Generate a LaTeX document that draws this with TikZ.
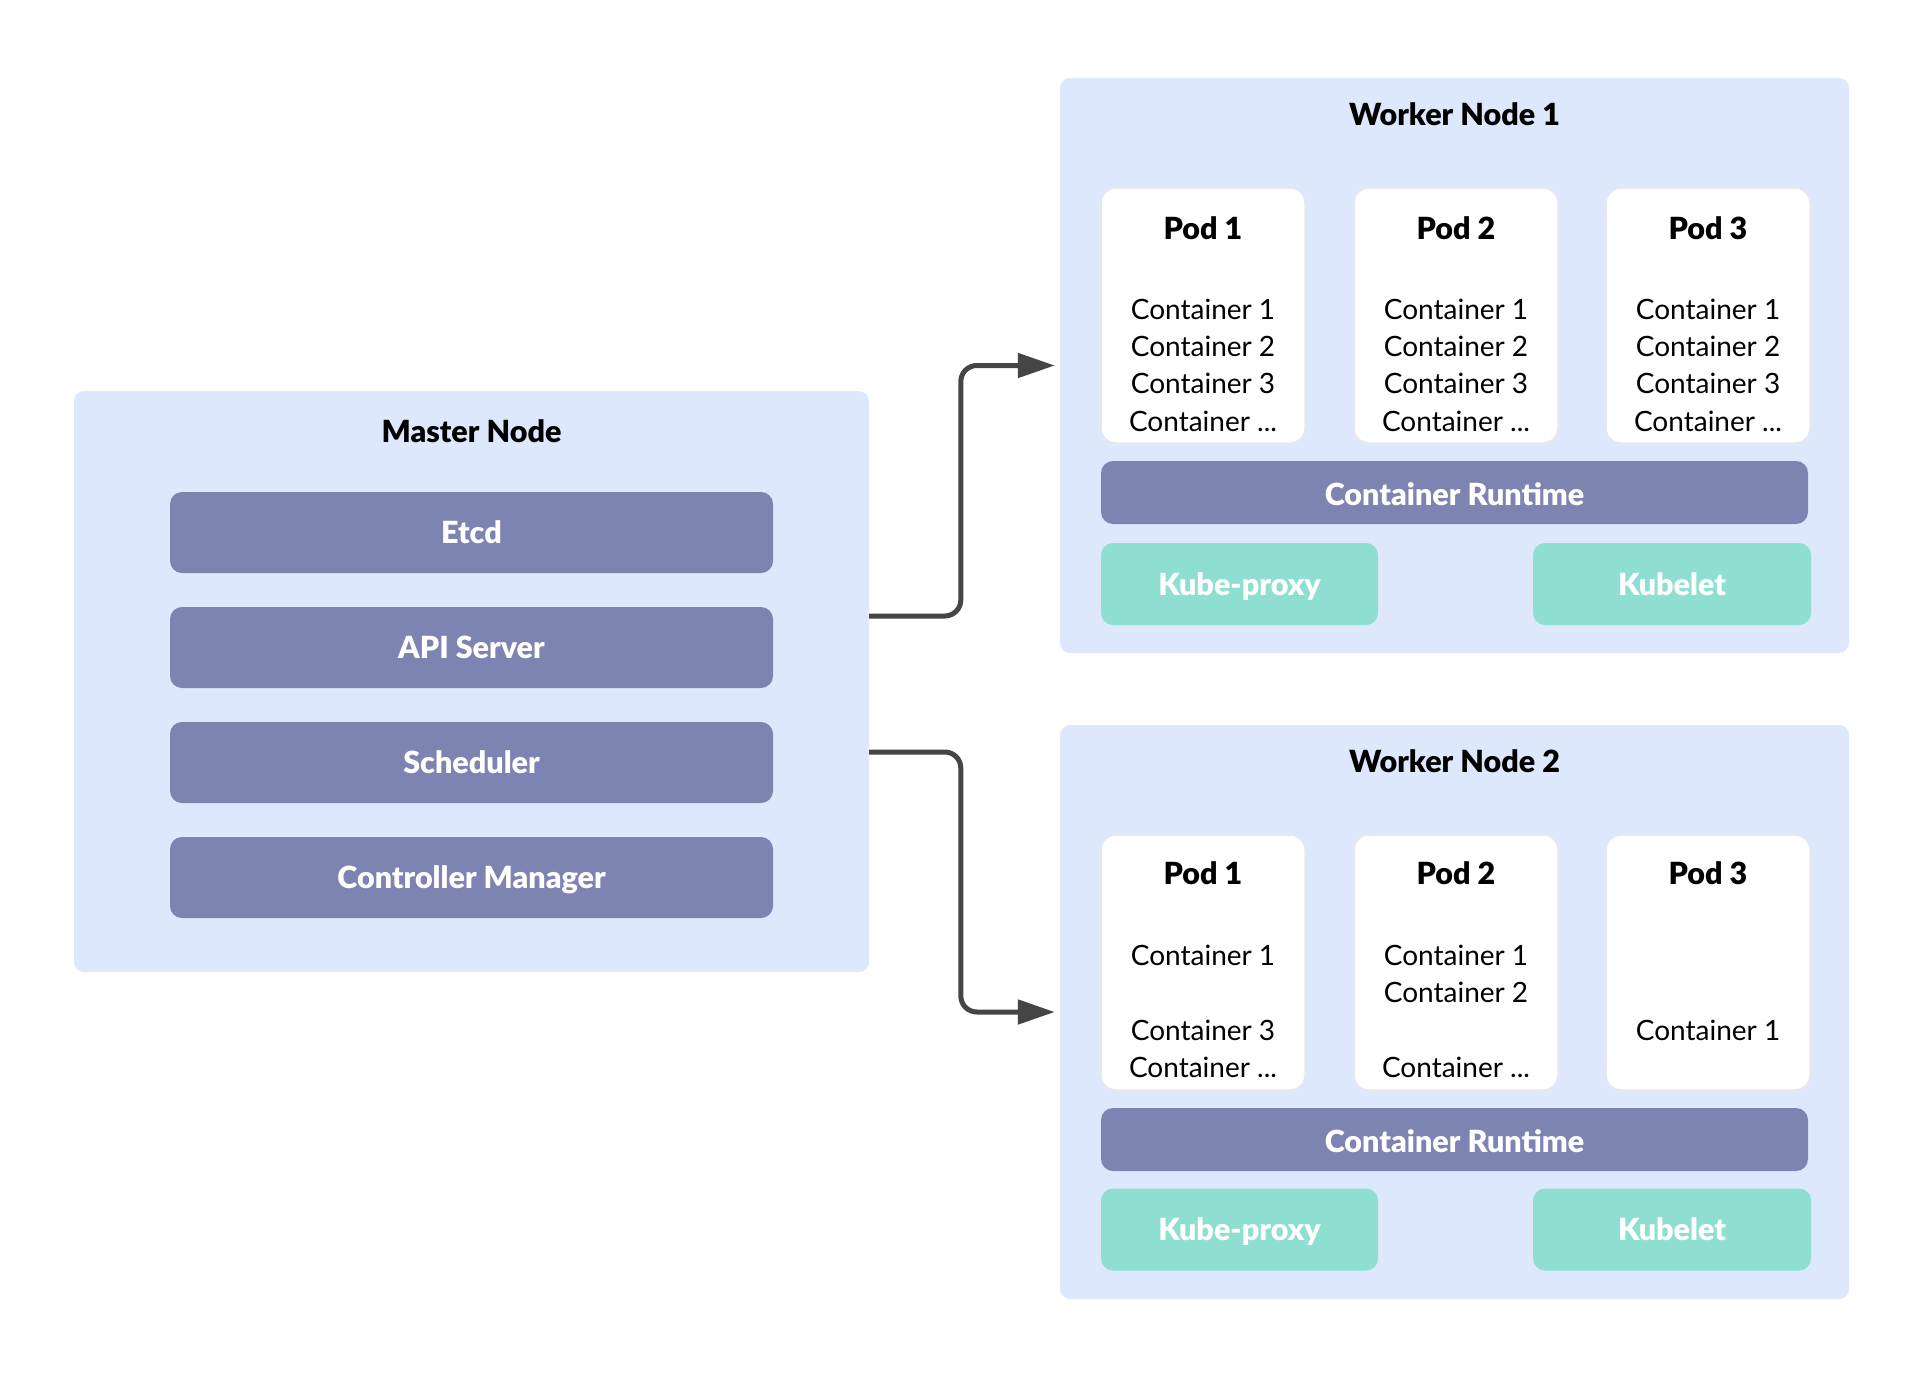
\documentclass[tikz,border=0pt]{standalone}
\usepackage{fontspec}
\setmainfont{Lato}
\newfontfamily\heavyfont{Lato Black}
\usetikzlibrary{arrows.meta}
\definecolor{panelblue}{HTML}{DDE8FC}
\definecolor{barpurple}{HTML}{7E84B1}
\definecolor{barteal}{HTML}{8EDFD1}
\definecolor{podedge}{HTML}{E6E8EE}
\definecolor{connc}{HTML}{454545}
\tikzset{
  panel/.style={fill=panelblue, draw=none, rounded corners=10pt, inner sep=0pt},
  podbox/.style={fill=white, draw=podedge, line width=1.5pt, rounded corners=15pt, inner sep=0pt, minimum width=204pt, minimum height=255pt},
  pbar/.style={fill=barpurple, draw=none, rounded corners=12pt, inner sep=0pt, text=white, font=\fontsize{30.5}{34}\heavyfont, text height=22pt, text depth=0pt},
  rtbar/.style={pbar, text height=26pt, minimum width=707pt, minimum height=63pt},
  tbar/.style={fill=barteal, draw=none, rounded corners=12pt, inner sep=0pt, text=white, font=\fontsize{30.5}{34}\heavyfont, minimum height=82pt, text height=22pt, text depth=0pt},
  titletext/.style={font=\fontsize{30.5}{34}\heavyfont, inner sep=0pt},
  conttext/.style={font=\fontsize{28}{32}\selectfont, inner sep=0pt},
  conn/.style={draw=connc, line width=5pt, rounded corners=16pt, -{Triangle[length=37pt,width=24pt]}, shorten >=5pt}
}
\begin{document}
\begin{tikzpicture}[x=1pt,y=-1pt]
\useasboundingbox (0,0) rectangle (1929,1378);
\fill[white] (0,0) rectangle (1929,1378);

% Master node
\node[panel, minimum width=795pt, minimum height=581pt] (master) at (471.5,681.5) {};
\node[titletext] (mtitle) at (471.5,431) {Master Node};
\node[pbar, minimum width=603pt, minimum height=81pt] (etcd) at (471.5,532.5) {Etcd};
\node[pbar, minimum width=603pt, minimum height=81pt] (api) at (471.5,647.5) {API Server};
\node[pbar, minimum width=603pt, minimum height=81pt] (sched) at (471.5,762.5) {Scheduler};
\node[pbar, minimum width=603pt, minimum height=81pt] (ctrl) at (471.5,877.5) {Controller Manager};

% Worker nodes
\node[panel, minimum width=789pt, minimum height=575pt] (w1) at (1454.5,365.5) {};
\node[panel, minimum width=789pt, minimum height=574pt] (w2) at (1454.5,1012) {};
\node[titletext] (w1title) at (1454.5,114) {Worker Node 1};
\node[titletext] (w2title) at (1454.5,761) {Worker Node 2};

% Pods worker 1
\foreach \i/\x in {1/1203,2/1456,3/1708}{
  \node[podbox] (w1p\i) at (\x,315.5) {};
  \node[titletext] (w1p\i t) at (\x,228) {Pod \i};
  \node[conttext] (w1p\i c1) at (\x,309) {Container 1};
  \node[conttext] (w1p\i c2) at (\x,346) {Container 2};
  \node[conttext] (w1p\i c3) at (\x,383) {Container 3};
  \node[conttext] (w1p\i c4) at (\x,421) {Container ...};
}
% Pods worker 2
\foreach \i/\x in {1/1203,2/1456,3/1708}{
  \node[podbox] (w2p\i) at (\x,962.5) {};
  \node[titletext] (w2p\i t) at (\x,873) {Pod \i};
}
\node[conttext] (w2p1c1) at (1203,955) {Container 1};
\node[conttext] (w2p1c3) at (1203,1030) {Container 3};
\node[conttext] (w2p1c4) at (1203,1067) {Container ...};
\node[conttext] (w2p2c1) at (1456,955) {Container 1};
\node[conttext] (w2p2c2) at (1456,992) {Container 2};
\node[conttext] (w2p2c4) at (1456,1067) {Container ...};
\node[conttext] (w2p3c1) at (1708,1030) {Container 1};

% Runtime and agents
\node[rtbar] (w1rt) at (1454.5,492.5) {Container Runtime};
\node[rtbar] (w2rt) at (1454.5,1139.5) {Container Runtime};
\node[tbar, minimum width=277pt] (w1kp) at (1239.5,584) {Kube-proxy};
\node[tbar, minimum width=278pt] (w1kl) at (1672,584) {Kubelet};
\node[tbar, minimum width=277pt] (w2kp) at (1239.5,1229.5) {Kube-proxy};
\node[tbar, minimum width=278pt] (w2kl) at (1672,1229.5) {Kubelet};

% Connectors
\draw[conn] ([yshift=65.5pt]master.east) -| ([xshift=-99pt]w1.west) -- (w1.west);
\draw[conn] ([yshift=-70.5pt]master.east) -| ([xshift=-99pt]w2.west) -- (w2.west);
\end{tikzpicture}
\end{document}
